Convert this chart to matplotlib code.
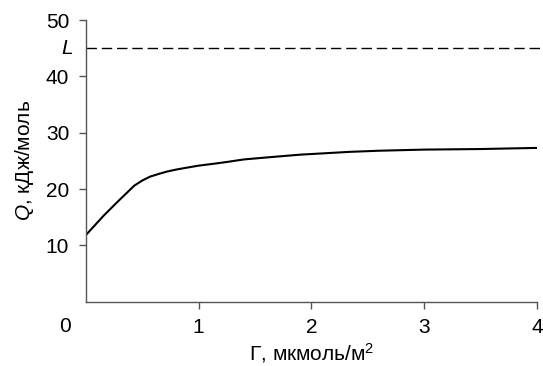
import matplotlib
matplotlib.use("Agg")
import matplotlib.pyplot as plt
from matplotlib.transforms import offset_copy

# ── data ──────────────────────────────────────────────────────────────────────
gamma = [0, 0.16, 0.28, 0.43, 0.50, 0.57, 0.65, 0.72, 0.80, 0.87, 1.0,
         1.14, 1.25, 1.40, 1.60, 1.90, 2.34, 2.60, 3.0, 3.5, 4.0]
heat  = [11.8, 15.3, 17.7, 20.6, 21.5, 22.2, 22.7, 23.1, 23.45, 23.7, 24.15,
         24.5, 24.8, 25.25, 25.6, 26.1, 26.6, 26.8, 27.0, 27.1, 27.3]
limit_L = 45
x_ticks = [1, 2, 3, 4]
y_ticks = [10, 20, 30, 40, 50]

# ── style ─────────────────────────────────────────────────────────────────────
plt.rcParams["font.family"] = ["Liberation Sans", "DejaVu Sans"]
plt.rcParams["mathtext.fontset"] = "custom"
plt.rcParams["mathtext.rm"] = "Liberation Sans"
plt.rcParams["mathtext.it"] = "Liberation Sans:italic"
FS = 15
SPINE = "#555555"

fig = plt.figure(figsize=(5.43, 3.66), dpi=100)
ax = fig.add_axes([0.158, 0.176, 0.831, 0.769])

ax.plot(gamma, heat, color="black", lw=1.5, solid_joinstyle="round")
ax.axhline(limit_L, xmin=0, xmax=1.02, color="black", lw=1.0,
           ls=(0, (7.5, 3.5)), clip_on=False)

ax.set_xlim(0, 4)
ax.set_ylim(0, 50)
ax.set_xticks(x_ticks)
ax.set_yticks(y_ticks)
ax.tick_params(axis="both", direction="out", length=5, width=1,
               color=SPINE, labelsize=FS, pad=7)

for s in ("top", "right"):
    ax.spines[s].set_visible(False)
for s in ("left", "bottom"):
    ax.spines[s].set_color(SPINE)
    ax.spines[s].set_linewidth(1.0)

# corner "0" and the L label on the y axis
ax.text(0, 0, "0", fontsize=FS, ha="center", va="top",
        transform=offset_copy(ax.transData, fig=fig, x=-21, y=-15, units="dots"))
ax.text(0, limit_L, "L", fontsize=FS, fontstyle="italic", ha="right", va="center",
        transform=offset_copy(ax.transData, fig=fig, x=-13, y=0, units="dots"))

ax.set_xlabel("Γ, мкмоль/м$^2$", fontsize=FS, labelpad=3)
ax.set_ylabel("$Q$, кДж/моль", fontsize=FS, labelpad=7)

fig.savefig("out.png", dpi=100)
